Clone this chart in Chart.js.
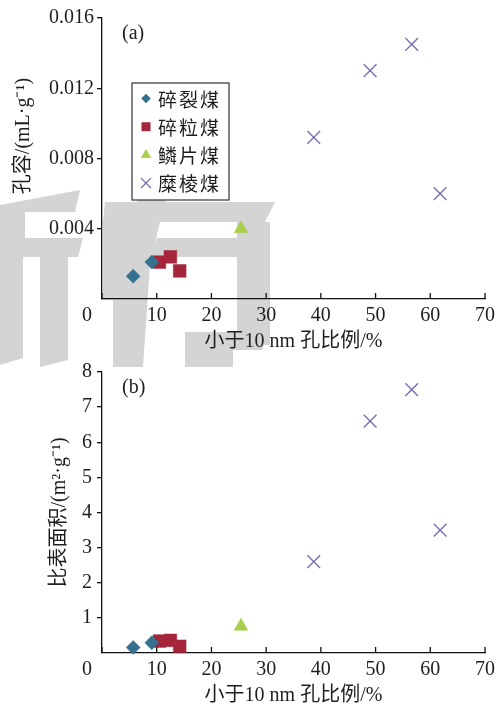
<!DOCTYPE html>
<html>
<head>
<meta charset="utf-8">
<script src="https://cdn.jsdelivr.net/npm/chart.js@4.4.1/dist/chart.umd.min.js"></script>
<style>
  html, body { margin: 0; padding: 0; background: #fff; }
  #wrap { position: relative; width: 504px; height: 708px; overflow: hidden; }
  #wm { position: absolute; left: 0; top: 0; z-index: 0; }
  #ca { position: absolute; left: 0; top: 0; z-index: 1; }
  #cb { position: absolute; left: 0; top: 340px; z-index: 2; }
</style>
</head>
<body>
<div id="wrap">
  <canvas id="wm" width="504" height="708"></canvas>
  <canvas id="ca" width="504" height="360"></canvas>
  <canvas id="cb" width="504" height="368"></canvas>
</div>
<script>
// coal types
const names = ['碎裂煤', '碎粒煤', '鳞片煤', '糜棱煤'];

// share of pores < 10 nm (%)
const suilieX = [5.7, 9.1];
const suliX = [10.5, 12.5, 14.2];
const linpianX = [25.4];
const milengX = [38.7, 49.0, 56.6, 61.8];

// (a) pore volume, mL/g
const suilieVol = [0.0013, 0.0021];
const suliVol = [0.0021, 0.0024, 0.0016];
const linpianVol = [0.0040];
const milengVol = [0.0092, 0.0130, 0.0145, 0.0060];

// (b) specific surface area, m2/g
const suilieArea = [0.16, 0.29];
const suliArea = [0.34, 0.36, 0.19];
const linpianArea = [0.76];
const milengArea = [2.6, 6.6, 7.5, 3.5];

const xTicks = [0, 10, 20, 30, 40, 50, 60, 70];
const volTicks = [0, 0.004, 0.008, 0.012, 0.016];
const areaTicks = [0, 1, 2, 3, 4, 5, 6, 7, 8];

const serif = "'Liberation Serif', 'Noto Sans CJK SC', serif";
const axisColor = '#111';
const textColor = '#1e1e1e';

const styles = [
  { pointStyle: 'rectRot', color: '#35718f', radius: 7, legendRadius: 4.5 },
  { pointStyle: 'rect', color: '#a5263b', radius: 9, legendRadius: 6 },
  { pointStyle: 'triangle', color: '#a9cd4d', radius: 8, legendRadius: 5.5 },
  { pointStyle: 'crossRot', color: '#736bae', radius: 9, legendRadius: 7 }
];

function pts(xs, ys) {
  return xs.map((x, i) => ({ x: x, y: ys[i] }));
}

function makeSets(series) {
  return series.map((s, i) => ({
    label: names[i],
    data: s,
    pointStyle: styles[i].pointStyle,
    pointRadius: styles[i].radius,
    backgroundColor: styles[i].color,
    borderColor: styles[i].color,
    borderWidth: styles[i].pointStyle === 'crossRot' ? 1.3 : 0.5,
    clip: false
  }));
}

// x ticks point into the plot
const innerTicks = {
  id: 'innerTicks',
  afterDraw(chart) {
    const sx = chart.scales.x, ctx = chart.ctx, bottom = chart.chartArea.bottom;
    ctx.save();
    ctx.strokeStyle = axisColor;
    ctx.lineWidth = 1.3;
    sx.ticks.forEach(t => {
      const px = sx.getPixelForValue(t.value);
      ctx.beginPath();
      ctx.moveTo(px, bottom);
      ctx.lineTo(px, bottom - 6);
      ctx.stroke();
    });
    ctx.restore();
  }
};

const panelLabel = {
  id: 'panelLabel',
  afterDraw(chart, args, opts) {
    const ctx = chart.ctx, a = chart.chartArea;
    ctx.save();
    ctx.font = '20px ' + serif;
    ctx.fillStyle = textColor;
    ctx.textBaseline = 'middle';
    ctx.fillText(opts.text, a.left + 20, a.top + 16);
    ctx.restore();
  }
};

const legendBox = {
  id: 'legendBox',
  afterDatasetsDraw(chart, args, opts) {
    if (!opts.show) return;
    const ctx = chart.ctx, a = chart.chartArea;
    const x0 = a.left + 30, y0 = a.top + 65, w = 97, h = 117;
    ctx.save();
    ctx.fillStyle = '#fff';
    ctx.fillRect(x0, y0, w, h);
    ctx.strokeStyle = '#333';
    ctx.lineWidth = 1.2;
    ctx.strokeRect(x0, y0, w, h);
    chart.data.datasets.forEach((ds, i) => {
      const cy = y0 + 15.5 + i * 28.2;
      ctx.fillStyle = ds.backgroundColor;
      ctx.strokeStyle = ds.borderColor;
      ctx.lineWidth = ds.borderWidth;
      Chart.helpers.drawPoint(ctx, {
        pointStyle: ds.pointStyle,
        radius: styles[i].legendRadius,
        borderWidth: ds.borderWidth,
        rotation: 0
      }, x0 + 14, cy);
      ctx.fillStyle = textColor;
      ctx.font = "19px 'Noto Sans CJK SC'";
      ctx.textBaseline = 'middle';
      ctx.letterSpacing = '2px';
      ctx.fillText(ds.label, x0 + 26, cy + 1);
      ctx.letterSpacing = '0px';
    });
    ctx.restore();
  }
};

function makeChart(id, series, yTicks, yFmt, yTitle, pad, yWidth, tickPad, panel, showLegend) {
  return new Chart(document.getElementById(id), {
    type: 'scatter',
    data: { datasets: makeSets(series) },
    options: {
      animation: false,
      responsive: false,
      devicePixelRatio: 1,
      layout: { padding: pad },
      plugins: {
        legend: { display: false },
        tooltip: { enabled: false },
        panelLabel: { text: panel },
        legendBox: { show: showLegend }
      },
      scales: {
        x: {
          type: 'linear',
          min: xTicks[0],
          max: xTicks[xTicks.length - 1],
          afterBuildTicks: s => { s.ticks = xTicks.map(v => ({ value: v })); },
          afterFit: s => { s.height = 55; },
          grid: { display: false, drawTicks: false },
          border: { display: true, color: axisColor, width: 1.3 },
          ticks: {
            autoSkip: false,
            maxRotation: 0,
            padding: 5,
            color: textColor,
            font: { family: serif, size: 20 },
            callback: v => v === 0 ? '0\u2003\u2002' : String(v)
          },
          title: {
            display: true,
            text: '小于10 nm 孔比例/%',
            color: textColor,
            font: { family: serif, size: 20 },
            padding: 0
          }
        },
        y: {
          type: 'linear',
          min: yTicks[0],
          max: yTicks[yTicks.length - 1],
          afterBuildTicks: s => { s.ticks = yTicks.map(v => ({ value: v })); },
          afterFit: s => { s.width = yWidth; },
          grid: {
            drawOnChartArea: false,
            drawTicks: true,
            tickLength: 5,
            lineWidth: 1.3,
            color: c => (c.tick && c.tick.value === 0) ? 'rgba(0,0,0,0)' : axisColor
          },
          border: { display: true, color: axisColor, width: 1.3 },
          ticks: {
            padding: tickPad,
            color: textColor,
            font: { family: serif, size: 20 },
            callback: v => v === 0 ? '' : yFmt(v)
          },
          title: {
            display: true,
            text: yTitle,
            color: textColor,
            font: { family: serif, size: 20 },
            padding: 0
          }
        }
      }
    },
    plugins: [innerTicks, panelLabel, legendBox]
  });
}

// light grey watermark behind both panels
(function drawWatermark() {
  const ctx = document.getElementById('wm').getContext('2d');
  ctx.fillStyle = '#d4d4d4';
  const polys = [
    [[0, 205], [80, 190], [75, 212], [0, 212]],
    [[0, 205], [25, 205], [25, 257], [0, 257]],
    [[0, 238], [83, 238], [78, 257], [0, 257]],
    [[0, 257], [23, 257], [23, 358], [0, 365]],
    [[40, 257], [68, 257], [68, 360], [40, 367]],
    [[105, 202], [275, 202], [265, 222], [103, 222]],
    [[140, 192], [168, 192], [165, 202], [137, 202]],
    [[103, 222], [160, 222], [150, 265], [143, 367], [113, 367], [113, 300], [103, 300]],
    [[157, 238], [270, 238], [270, 257], [150, 257]],
    [[237, 222], [270, 222], [270, 345], [237, 345]],
    [[185, 332], [270, 332], [262, 350], [233, 350], [233, 367], [185, 367]]
  ];
  polys.forEach(p => {
    ctx.beginPath();
    p.forEach((q, i) => i ? ctx.lineTo(q[0], q[1]) : ctx.moveTo(q[0], q[1]));
    ctx.closePath();
    ctx.fill();
  });
})();

makeChart('ca',
  [pts(suilieX, suilieVol), pts(suliX, suliVol), pts(linpianX, linpianVol), pts(milengX, milengVol)],
  volTicks, v => v.toFixed(3), '\u2003\u2003 孔容/(mL·g⁻¹)',
  { top: 18, right: 19, bottom: 6, left: 12 }, 90, 3, '(a)', true);

makeChart('cb',
  [pts(suilieX, suilieArea), pts(suliX, suliArea), pts(linpianX, linpianArea), pts(milengX, milengArea)],
  areaTicks, v => String(v), '比表面积/(m²·g⁻¹)',
  { top: 32, right: 19, bottom: 0, left: 48 }, 54, 5, '(b)', false);
</script>
</body>
</html>
